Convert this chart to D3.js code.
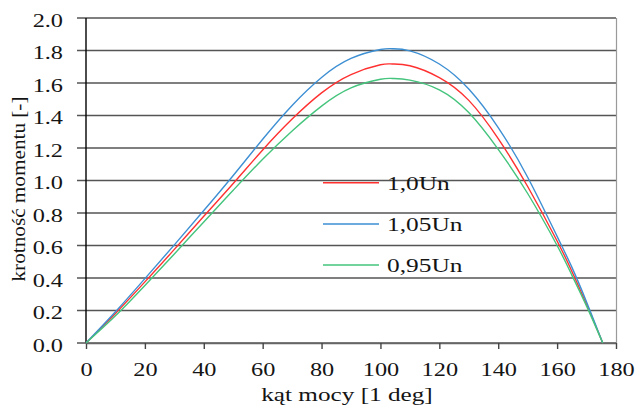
<!DOCTYPE html>
<html><head><meta charset="utf-8">
<script src="https://cdn.jsdelivr.net/npm/d3@7"></script>
<style>html,body{margin:0;padding:0;background:#fff;}svg{display:block;}svg text{font-family:"Liberation Serif","Times New Roman",serif;}</style>
</head><body>
<svg id="c" width="641" height="408"></svg>
<script>
const angles = [0,10,20,30,40,50,60,70,80,90,100,104,110,120,130,140,150,160,165,170,175.5];
const seriesNames = ["1,0Un","1,05Un","0,95Un"];
const seriesColors = ["#ff3030","#3d8fd3","#44c47c"];
const vals10 = [0,0.182,0.376,0.576,0.780,0.982,1.188,1.378,1.539,1.652,1.712,1.717,1.706,1.633,1.493,1.258,0.963,0.628,0.442,0.238,0];
const vals105 = [0,0.192,0.396,0.604,0.815,1.031,1.254,1.462,1.634,1.751,1.806,1.811,1.798,1.717,1.563,1.326,1.02,0.656,0.467,0.253,0];
const vals095 = [0,0.167,0.354,0.548,0.745,0.94,1.131,1.305,1.458,1.57,1.623,1.628,1.618,1.558,1.418,1.192,0.92,0.60,0.418,0.227,0];
const xTicks = [0,20,40,60,80,100,120,140,160,180];
const yTicks = [0,0.2,0.4,0.6,0.8,1.0,1.2,1.4,1.6,1.8,2.0];
const xTitle = "kąt mocy [1 deg]";
const yTitle = "krotność momentu [-]";

const svg = d3.select("#c");
const L=86, R=616, T=18, B=343;
const x = d3.scaleLinear().domain([0,180]).range([L,R]);
const y = d3.scaleLinear().domain([0,2]).range([B,T]);
const font = "Liberation Serif";
const txtCol = "#141414";
const stretch = (sel, f) => sel.each(function(){ const w=this.getComputedTextLength(); d3.select(this).attr("textLength", w*f).attr("lengthAdjust","spacingAndGlyphs"); });

// gridlines
svg.append("g").selectAll("line").data(yTicks).join("line")
  .attr("x1", L-9).attr("x2", R).attr("y1", d=>y(d)).attr("y2", d=>y(d))
  .attr("stroke", "#555").attr("stroke-width", 1.6);
// right border
svg.append("line").attr("x1",R+0.5).attr("x2",R+0.5).attr("y1",T).attr("y2",B)
  .attr("stroke","#9a9a9a").attr("stroke-width",1.2);

// x axis
const xa = svg.append("g").attr("transform",`translate(0,${B})`)
  .call(d3.axisBottom(x).tickValues(xTicks).tickSize(6).tickSizeOuter(0).tickFormat(d3.format("d")));
xa.attr("font-family",null).attr("font-size",null);
xa.select(".domain").attr("stroke","#666").attr("stroke-width",1.6);
xa.selectAll(".tick line").attr("stroke","#444").attr("stroke-width",1.4);
xa.selectAll("text").attr("font-family",font).attr("font-size",18).attr("fill",txtCol)
  .attr("y",0).attr("dy",null).attr("transform","translate(0,33)");
xa.selectAll("text").call(stretch,1.35);

// y axis labels
const ya = svg.append("g").attr("transform",`translate(${L},0)`)
  .call(d3.axisLeft(y).tickValues(yTicks).tickSize(0).tickFormat(d3.format(".1f")));
ya.attr("font-family",null).attr("font-size",null);
ya.select(".domain").remove();
ya.selectAll("text").attr("font-family",font).attr("font-size",18).attr("fill",txtCol)
  .attr("x",-23).attr("dy",null).attr("y",8);
ya.selectAll("text").call(stretch,1.35);
// y axis line
svg.append("line").attr("x1",L).attr("x2",L).attr("y1",T).attr("y2",B)
  .attr("stroke","#000").attr("stroke-width",1.4);

// curves
const data = [vals10, vals105, vals095];
const line = d3.line().x((d,i)=>x(angles[i])).y(d=>y(d)).curve(d3.curveNatural);
svg.append("g").selectAll("path").data(data).join("path")
  .attr("d", d=>line(d)).attr("fill","none")
  .attr("stroke",(d,i)=>seriesColors[i]).attr("stroke-width",1.4);

// legend
const lg = svg.append("g");
seriesNames.forEach((n,i)=>{
  const yy = 182.7 + i*41.2;
  lg.append("line").attr("x1",323).attr("x2",379).attr("y1",yy).attr("y2",yy)
    .attr("stroke",seriesColors[i]).attr("stroke-width",1.5);
  lg.append("text").attr("x",387).attr("y",yy+7).text(n)
    .attr("font-family",font).attr("font-size",18).attr("fill",txtCol).call(stretch,1.41);
});

// titles
svg.append("text").attr("x",347).attr("y",401).attr("text-anchor","middle").text(xTitle)
  .attr("font-family",font).attr("font-size",18).attr("fill",txtCol).call(stretch,1.4);
svg.append("text").attr("transform","translate(25,189) rotate(-90)").attr("text-anchor","middle").text(yTitle)
  .attr("font-family",font).attr("font-size",19).attr("fill",txtCol).attr("textLength",185).attr("lengthAdjust","spacingAndGlyphs");
</script>
</body></html>
